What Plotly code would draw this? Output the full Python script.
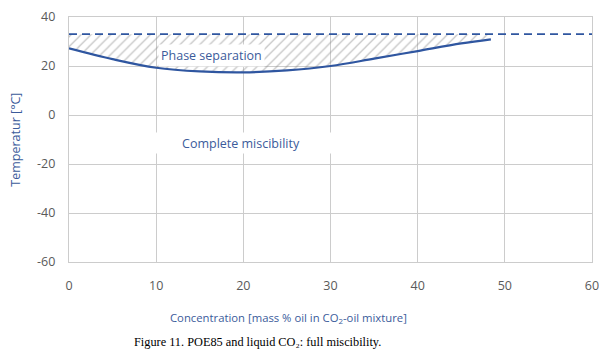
import plotly.graph_objects as go

# Data
concentration = [0, 5, 10, 15, 20, 25, 30, 35, 40, 45, 48.4]
separation_temp = [27.2, 22.8, 19.3, 17.8, 17.4, 18.2, 20.0, 23.0, 26.1, 29.2, 30.9]
critical_temp = 33
x_ticks = [0, 10, 20, 30, 40, 50, 60]
y_ticks = [-60, -40, -20, 0, 20, 40]
y_tick_labels = [str(v) for v in y_ticks]

BLUE = "#2f56a0"
TEXT_BLUE = "#3b5b9b"
GRID = "#cccccc"
TICK = "#5a5a5a"
FONT = "Open Sans"

fig = go.Figure()

# hatched phase-separation region
fig.add_trace(go.Scatter(
    x=concentration + [concentration[-1], concentration[0]],
    y=separation_temp + [critical_temp, critical_temp],
    mode="lines", line=dict(width=0), fill="toself",
    fillcolor="rgba(0,0,0,0)",
    fillpattern=dict(shape="/", fgcolor="#8a8a8a", bgcolor="rgba(0,0,0,0)",
                     size=7, solidity=0.18),
    hoverinfo="skip", showlegend=False))

# dashed critical line
fig.add_trace(go.Scatter(
    x=[x_ticks[0], x_ticks[-1]], y=[critical_temp, critical_temp],
    mode="lines", line=dict(color=BLUE, width=1.6, dash="8px,5px"),
    showlegend=False))

# miscibility curve
fig.add_trace(go.Scatter(
    x=concentration, y=separation_temp, mode="lines",
    line=dict(color=BLUE, width=2.2, shape="spline"), showlegend=False))

fig.update_layout(
    width=591, height=341,
    margin=dict(l=61, r=0, t=8, b=87),
    paper_bgcolor="white", plot_bgcolor="white",
    font=dict(family=FONT, size=12, color=TICK),
    xaxis=dict(range=[0, 60], tickvals=x_ticks, showgrid=True, gridcolor=GRID,
               gridwidth=1.3, zeroline=False, showline=True, linecolor=GRID,
               linewidth=1.3, mirror=True, ticklabelstandoff=12,
               ticklabeloverflow="allow",
               tickfont=dict(size=12.5, color=TICK)),
    yaxis=dict(range=[-60, 40], tickvals=y_ticks, ticktext=y_tick_labels,
               showgrid=True, gridcolor=GRID,
               gridwidth=1.3, zeroline=False, showline=True, linecolor=GRID,
               linewidth=1.3, mirror=True, ticklabelstandoff=10,
               ticklabeloverflow="allow",
               tickfont=dict(size=12.5, color=TICK)),
    annotations=[
        dict(x=16.3, y=24.2, xref="x", yref="y", text="Phase separation",
             showarrow=False, font=dict(family=FONT, size=12.5, color=TEXT_BLUE),
             bgcolor="white", borderpad=2),
        dict(x=19.7, y=-11.3, xref="x", yref="y", text="Complete miscibility",
             showarrow=False, font=dict(family=FONT, size=12.5, color=TEXT_BLUE),
             bgcolor="white", width=182, height=18),
        dict(x=-0.103, y=0.5, xref="paper", yref="paper", text="Temperatur [°C]",
             textangle=-90, showarrow=False, xanchor="center", yanchor="middle",
             font=dict(family=FONT, size=12.5, color=TEXT_BLUE)),
        dict(x=0.419, y=-0.2276, xref="paper", yref="paper",
             xanchor="center", yanchor="middle",
             text="Concentration [mass % oil in CO<sub>2</sub>-oil mixture]",
             showarrow=False, font=dict(family=FONT, size=11.3, color=TEXT_BLUE)),
        dict(x=0.361, y=-0.325, xref="paper", yref="paper",
             xanchor="center", yanchor="middle",
             text="Figure 11. POE85 and liquid CO₂: full miscibility.",
             showarrow=False, font=dict(family="Liberation Serif", size=12.3, color="black")),
    ],
)

fig.write_html("out.html")
